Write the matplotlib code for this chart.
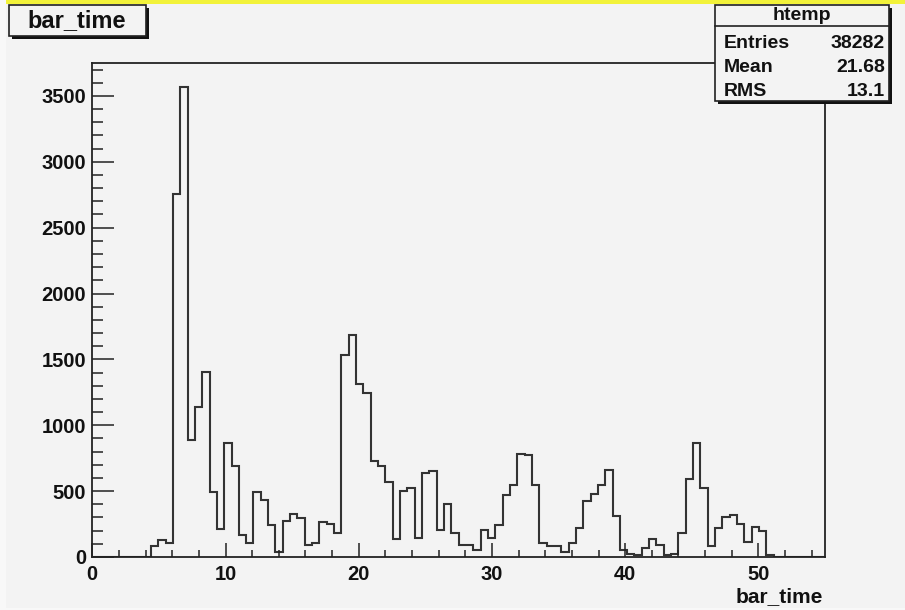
import matplotlib
matplotlib.use("Agg")
import matplotlib.pyplot as plt
import numpy as np
from matplotlib.patches import Rectangle
from matplotlib.ticker import MultipleLocator

# histogram "htemp" of bar_time, 100 bins from 0 to 55
x_min, x_max, n_bins = 0.0, 55.0, 100
counts = [0] * 8 + [
    81, 126, 106, 2758, 3571, 889, 1141, 1401, 490, 215,
    866, 694, 164, 106, 490, 434, 240, 38, 273, 328,
    298, 88, 104, 263, 253, 182, 1535, 1687, 1313, 1242,
    732, 687, 571, 136, 500, 525, 146, 636, 649, 205,
    399, 182, 93, 93, 56, 205, 146, 240, 467, 545,
    783, 773, 545, 104, 81, 81, 35, 106, 220, 424,
    480, 548, 662, 308, 50, 25, 13, 71, 136, 93,
    13, 20, 182, 593, 869, 525, 81, 220, 306, 316,
    253, 114, 227, 197, 18,
] + [0] * 7
x_ticks = [0, 10, 20, 30, 40, 50]
y_ticks = [0, 500, 1000, 1500, 2000, 2500, 3000, 3500]
stats_rows = [("Entries", "38282"), ("Mean", "21.68"), ("RMS", "13.1")]

plt.rcParams['font.family'] = ['Liberation Sans', 'DejaVu Sans']
plt.rcParams['font.weight'] = 'bold'

bg = '#f3f3f3'
ink = '#222222'
W, H = 905, 610

fig = plt.figure(figsize=(W / 100, H / 100), dpi=100)
fig.patch.set_facecolor('#f8f8f8')

# frame area
ax = fig.add_axes([92.3 / W, (H - 557) / H, (825 - 92.3) / W, (557 - 63) / H])
ax.set_facecolor(bg)

edges = np.linspace(x_min, x_max, n_bins + 1)
ax.stairs(counts, edges, baseline=0, color='#333333', linewidth=1.5)

ax.set_xlim(x_min, x_max)
ax.set_ylim(0, max(counts) * 1.05)
ax.set_xticks(x_ticks)
ax.set_yticks(y_ticks)
ax.xaxis.set_minor_locator(MultipleLocator(2))
ax.yaxis.set_minor_locator(MultipleLocator(100))
ax.tick_params(axis='both', which='both', direction='in', top=False, right=False,
               color=ink, width=1.1, labelsize=14.5, labelcolor='#111111')
ax.tick_params(axis='y', which='major', length=15.5, pad=4.3)
ax.tick_params(axis='y', which='minor', length=7.7)
ax.tick_params(axis='x', which='major', length=10.3, pad=6.0)
ax.tick_params(axis='x', which='minor', length=5.2)
for s in ax.spines.values():
    s.set_linewidth(1.3)
    s.set_color(ink)

# overlay in pixel coordinates for the ROOT boxes
ov = fig.add_axes([0, 0, 1, 1], zorder=5)
ov.set_xlim(0, W)
ov.set_ylim(H, 0)
ov.axis('off')
ov.patch.set_alpha(0)

# canvas area and yellow top edge
ov.add_patch(Rectangle((6, 2), W - 6, 606, facecolor=bg, edgecolor='none', zorder=0))
ax.set_zorder(6)
ov.set_zorder(5)
ov2 = fig.add_axes([0, 0, 1, 1], zorder=7)
ov2.set_xlim(0, W)
ov2.set_ylim(H, 0)
ov2.axis('off')
ov2.patch.set_alpha(0)
ov2.add_patch(Rectangle((6, 0), W - 6, 3.5, facecolor='#f2f23a', edgecolor='none'))


def box(x0, y0, x1, y1):
    ov2.add_patch(Rectangle((x0 + 3, y0 + 3), x1 - x0, y1 - y0, facecolor='#111111',
                            edgecolor='none'))
    ov2.add_patch(Rectangle((x0, y0), x1 - x0, y1 - y0, facecolor=bg,
                            edgecolor=ink, linewidth=1.2))


# title box
box(9, 5, 146, 36)
ov2.text(77, 21, "bar_time", fontsize=17, ha='center', va='center', color='#111111')

# stats box
box(715, 5, 889, 101)
ov2.plot([715, 889], [26, 26], color=ink, linewidth=1.2)
ov2.text(802, 16, "htemp", fontsize=14, ha='center', va='center', color='#111111')
for k, (name, val) in enumerate(stats_rows):
    yy = 43 + k * 24
    ov2.text(724, yy, name, fontsize=14, ha='left', va='center', color='#111111')
    ov2.text(885, yy, val, fontsize=14, ha='right', va='center', color='#111111')

# x axis title
ov2.text(823, 597, "bar_time", fontsize=15, ha='right', va='center', color='#111111')

fig.savefig("out.png", dpi=100, facecolor=fig.get_facecolor())
